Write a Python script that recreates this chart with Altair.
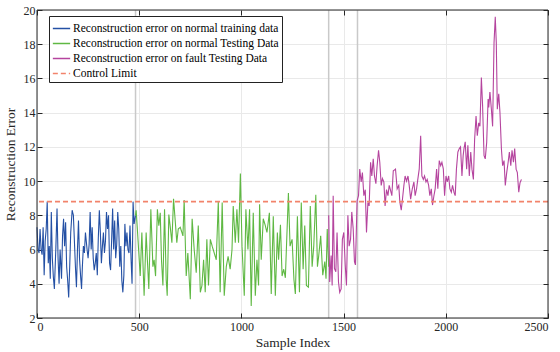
import altair as alt
import pandas as pd

S1 = "Reconstruction error on normal training data"
S2 = "Reconstruction error on normal Testing Data"
S3 = "Reconstruction error on fault Testing Data"
S4 = "Control Limit"

blue_x = [0, 5, 10, 15, 20, 25, 30, 35, 40, 45, 50, 55, 60, 65, 70, 75, 80, 85, 92, 98,
          103, 108, 113, 120, 125, 130, 135, 140, 145, 150, 155, 160, 165, 172, 178, 183,
          188, 193, 198, 203, 208, 213, 218, 222, 227, 232, 237, 245, 250, 255, 260, 265,
          270, 275, 280, 285, 290, 295, 300, 305, 310, 315, 320, 325, 330, 335, 340, 345,
          350, 355, 360, 365, 370, 375, 380, 385, 390, 395, 400, 405, 410, 415, 420, 425,
          430, 435, 440, 445, 450, 455, 460, 465, 470, 475, 482]
blue_y = [7.3, 6.0, 5.8, 7.2, 6.0, 5.7, 7.3, 4.5, 6.5, 7.2, 8.8, 5.2, 6.2, 4.3, 8.2, 5.5,
          4.4, 3.7, 6.0, 8.4, 5.5, 4.0, 6.0, 4.3, 6.8, 7.8, 6.2, 7.6, 5.0, 4.2, 3.2, 5.0,
          7.0, 8.3, 8.0, 6.5, 5.0, 3.8, 6.0, 7.7, 5.5, 4.5, 3.7, 5.0, 6.2, 5.8, 7.0, 6.0,
          5.5, 6.3, 8.2, 6.0, 7.3, 5.5, 4.8, 5.2, 5.8, 4.5, 6.7, 8.3, 7.0, 5.2, 6.2, 7.0,
          5.8, 6.5, 8.2, 7.2, 8.0, 5.2, 4.8, 6.5, 8.4, 6.0, 7.7, 5.5, 6.3, 8.2, 7.2, 5.0,
          6.2, 4.2, 3.5, 4.5, 7.5, 6.2, 7.0, 6.0, 5.8, 7.4, 5.5, 4.0, 8.8, 7.5, 8.0]

green_x = [482, 485, 491, 505, 513, 524, 534, 540, 547, 557, 567, 573, 580, 589, 596, 603,
           609, 616, 624, 632, 637, 645, 653, 660, 668, 678, 684, 691, 701, 714, 720, 730,
           738, 750, 759, 769, 779, 789, 799, 807, 815, 823, 831, 839, 848, 857, 867, 877,
           887, 896, 906, 916, 926, 935, 945, 954, 960, 970, 978, 986, 995, 1003, 1014,
           1022, 1032, 1040, 1048, 1058, 1068, 1076, 1084, 1089, 1097, 1107, 1117, 1125,
           1137, 1146, 1156, 1166, 1176, 1182, 1191, 1199, 1207, 1215, 1230, 1238, 1248,
           1257, 1264, 1274, 1284, 1293, 1302, 1310, 1318, 1328, 1337, 1346, 1354, 1364,
           1372, 1378, 1388, 1398, 1408, 1414, 1420, 1427]
green_y = [8.0, 8.3, 7.2, 4.45, 7.0, 3.3, 7.0, 5.4, 3.7, 8.35, 5.0, 5.4, 4.45, 8.35, 7.4,
           8.15, 5.4, 3.9, 8.35, 4.25, 3.3, 8.05, 7.2, 6.4, 8.97, 7.4, 6.4, 7.2, 7.3, 6.8,
           8.9, 4.45, 5.8, 3.1, 7.8, 6.0, 4.65, 7.4, 3.5, 3.9, 5.4, 3.5, 6.6, 3.9, 6.6, 6.2,
           5.8, 5.4, 8.8, 3.5, 8.75, 3.3, 5.0, 5.6, 4.85, 6.0, 8.55, 6.4, 8.35, 6.4, 10.45,
           6.2, 3.3, 8.35, 6.0, 8.35, 2.7, 8.15, 3.3, 5.4, 3.9, 8.65, 5.4, 7.8, 7.4, 7.0,
           8.15, 3.4, 7.95, 3.3, 7.0, 5.4, 7.45, 4.45, 4.85, 4.35, 9.3, 6.2, 6.6, 4.25, 3.4,
           7.95, 3.5, 8.75, 4.85, 7.4, 3.9, 3.8, 8.55, 5.0, 6.2, 9.2, 5.0, 5.6, 6.8, 4.5,
           5.3, 4.3, 7.2, 5.0]

fault_x = [1427, 1432, 1439, 1444, 1449, 1455, 1462, 1468, 1475, 1481, 1488, 1494, 1501,
           1508, 1514, 1521, 1527, 1534, 1540, 1547, 1553, 1558, 1566, 1573, 1579, 1586,
           1592, 1599, 1606, 1612, 1619, 1625, 1632, 1638, 1645, 1651, 1658, 1664, 1671,
           1677, 1684, 1690, 1697, 1703, 1710, 1717, 1723, 1730, 1736, 1743, 1754, 1762,
           1770, 1775, 1782, 1788, 1795, 1801, 1808, 1815, 1821, 1828, 1836, 1844, 1850,
           1857, 1863, 1870, 1877, 1883, 1890, 1896, 1903, 1909, 1916, 1922, 1929, 1935,
           1942, 1948, 1955, 1961, 1968, 1975, 1981, 1988, 1994, 2001, 2007, 2014, 2020,
           2027, 2033, 2040, 2046, 2052, 2059, 2066, 2072, 2079, 2085, 2089, 2095, 2102,
           2108, 2115, 2122, 2128, 2135, 2141, 2148, 2154, 2161, 2167, 2174, 2180, 2187,
           2193, 2200, 2207, 2210, 2216, 2223, 2229, 2236, 2242, 2247, 2252, 2259, 2265,
           2272, 2278, 2285, 2291, 2298, 2305, 2311, 2318, 2324, 2331, 2337, 2344, 2350,
           2357, 2363, 2370]
fault_y = [8.0, 4.1, 5.65, 3.9, 9.15, 4.9, 4.7, 7.0, 4.1, 3.5, 3.7, 6.6, 7.0, 5.1, 3.9,
           8.0, 6.2, 6.6, 8.2, 7.2, 5.3, 5.1, 8.85, 9.15, 10.7, 9.95, 10.5, 9.15, 9.5, 7.0,
           8.75, 8.55, 11.1, 10.3, 11.3, 10.3, 9.85, 10.9, 11.8, 11.1, 9.75, 10.15, 9.95,
           8.55, 9.5, 9.15, 9.75, 9.45, 9.15, 10.6, 10.7, 9.55, 9.75, 8.8, 8.3, 8.95, 9.75,
           10.3, 10.0, 10.3, 9.75, 8.95, 9.55, 9.95, 9.15, 9.55, 10.1, 10.7, 12.65, 10.3,
           10.1, 10.3, 9.95, 10.1, 9.75, 9.15, 9.55, 8.6, 9.15, 9.55, 10.7, 9.55, 11.2,
           10.9, 11.1, 10.7, 9.15, 10.3, 9.95, 10.3, 9.55, 9.35, 9.75, 9.35, 9.15, 10.7,
           11.7, 11.9, 12.0, 10.3, 11.5, 11.9, 12.3, 10.7, 12.1, 10.3, 11.7, 10.7, 10.1,
           12.45, 13.8, 12.65, 13.4, 13.2, 16.05, 14.4, 11.5, 11.3, 12.25, 14.8, 14.3, 15.2,
           14.2, 13.2, 18.1, 19.6, 18.1, 14.2, 15.1, 14.0, 11.9, 10.9, 11.2, 9.75, 10.5,
           11.1, 11.7, 10.9, 11.8, 11.1, 11.9, 10.7, 10.5, 9.35, 9.9, 10.1]

control_limit = [8.8]
boundaries = [482, 1427, 1568]

x_ticks = [0, 500, 1000, 1500, 2000, 2500]
y_ticks = [2, 4, 6, 8, 10, 12, 14, 16, 18, 20]

series_names = [S1, S2, S3, S4]
series_colors = ["#2450a4", "#5fb843", "#b5449e", "#f2836b"]
series_dashes = [[1, 0], [1, 0], [1, 0], [5, 3]]

df = pd.concat([
    pd.DataFrame({"sample": blue_x, "error": blue_y, "series": S1}),
    pd.DataFrame({"sample": green_x, "error": green_y, "series": S2}),
    pd.DataFrame({"sample": fault_x, "error": fault_y, "series": S3}),
], ignore_index=True)
limit_df = pd.DataFrame({"error": control_limit, "series": S4})
bounds_df = pd.DataFrame({"sample": boundaries})

FONT = "Liberation Serif"
AX = "#262626"
W, H = 511, 308

x_scale = alt.Scale(domain=[0, 2500], nice=False)
y_scale = alt.Scale(domain=[2, 20], nice=False)
color_scale = alt.Scale(domain=series_names, range=series_colors)
dash_scale = alt.Scale(domain=series_names, range=series_dashes)

legend = alt.Legend(
    title=None, orient="none", legendX=12, legendY=6,
    symbolType="stroke", symbolSize=300, symbolStrokeWidth=1.6,
    labelFont=FONT, labelFontSize=11.5, labelColor="black", labelLimit=400,
    strokeColor="#222222", fillColor="white", padding=3, rowPadding=-1,
    symbolOffset=0, labelOffset=2,
)

x_axis_main = alt.Axis(
    title="Sample Index", values=x_ticks, format="d", grid=True, gridColor="#e9e9e9",
    domain=False, ticks=True, tickSize=5, offset=-5, tickColor=AX,
    labelFont=FONT, labelFontSize=12, labelColor=AX, labelPadding=3,
    titleFont=FONT, titleFontSize=13.5, titleFontWeight="normal", titleColor=AX,
    titlePadding=3,
)
y_axis_main = alt.Axis(
    title="Reconstruction Error", values=y_ticks, grid=True, gridColor="#e9e9e9",
    domain=False, ticks=True, tickSize=5, offset=-5, tickColor=AX,
    labelFont=FONT, labelFontSize=12, labelColor=AX, labelPadding=2,
    titleFont=FONT, titleFontSize=13.5, titleFontWeight="normal", titleColor=AX,
    titlePadding=6,
)
x_axis_top = alt.Axis(orient="top", values=x_ticks, labels=False, title=None, grid=False,
                      domain=False, tickSize=5, offset=-5, tickColor=AX)
y_axis_right = alt.Axis(orient="right", values=y_ticks, labels=False, title=None,
                        grid=False, domain=False, tickSize=5, offset=-5, tickColor=AX)

bounds = alt.Chart(bounds_df).mark_rule(color="#c9c9c9", strokeWidth=1.5).encode(
    x=alt.X("sample:Q", scale=x_scale, axis=x_axis_top),
)

lines = alt.Chart(df).mark_line(strokeWidth=1.1).encode(
    x=alt.X("sample:Q", scale=x_scale, axis=x_axis_main),
    y=alt.Y("error:Q", scale=y_scale, axis=y_axis_main),
    color=alt.Color("series:N", scale=color_scale, legend=legend),
    strokeDash=alt.StrokeDash("series:N", scale=dash_scale, legend=legend),
    order=alt.Order("sample:Q"),
)

limit = alt.Chart(limit_df).mark_rule(strokeWidth=1.8).encode(
    y=alt.Y("error:Q", scale=y_scale, axis=y_axis_right),
    color=alt.Color("series:N", scale=color_scale, legend=legend),
    strokeDash=alt.StrokeDash("series:N", scale=dash_scale, legend=legend),
)

frame = alt.Chart(limit_df).mark_rect(
    fillOpacity=0, stroke=AX, strokeWidth=1
).encode(
    x=alt.value(0), x2=alt.value(W), y=alt.value(0), y2=alt.value(H),
)

chart = alt.layer(bounds, lines, limit, frame).resolve_axis(
    x="independent", y="independent"
).properties(
    width=W, height=H,
    background="white",
    autosize=alt.AutoSizeParams(type="none"),
    padding={"left": 37, "top": 10, "right": 12, "bottom": 34},
).configure_view(stroke=None)

chart.save("out.html", embed_options={"renderer": "svg", "actions": False})
